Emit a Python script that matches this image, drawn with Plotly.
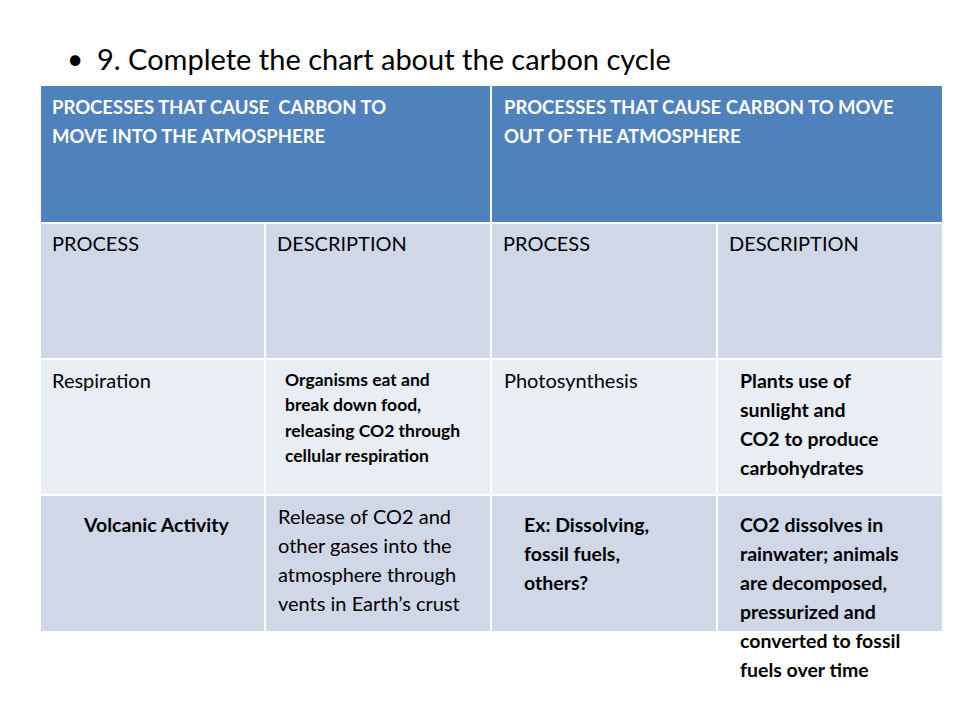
import plotly.graph_objects as go

title = "9. Complete the chart about the carbon cycle"
header_texts = [["PROCESSES THAT CAUSE  CARBON TO", "MOVE INTO THE ATMOSPHERE"],
                ["PROCESSES THAT CAUSE CARBON TO MOVE", "OUT OF THE ATMOSPHERE"]]
subheader_texts = ["PROCESS", "DESCRIPTION", "PROCESS", "DESCRIPTION"]
row3_texts = [["Respiration"],
              ["Organisms eat and", "break down food,", "releasing CO2 through", "cellular respiration"],
              ["Photosynthesis"],
              ["Plants use of", "sunlight and", "CO2 to produce", "carbohydrates"]]
row4_texts = [["Volcanic Activity"],
              ["Release of CO2 and", "other gases into the", "atmosphere through", "vents in Earth’s crust"],
              ["Ex: Dissolving,", "fossil fuels,", "others?"],
              ["CO2 dissolves in", "rainwater; animals", "are decomposed,", "pressurized and",
               "converted to fossil", "fuels over time"]]

FONT = "Lato"
colx = [40, 265, 491, 717, 943]
rowy = [85, 223, 359, 495, 632]
fills = ["#4F81BD", "#D0D8E8", "#E9EDF4", "#D0D8E8"]

fig = go.Figure()
shapes, ann = [], []
g = 1
def rect(x0, x1, y0, y1, c):
    shapes.append(dict(type="rect", xref="x", yref="y", x0=x0 + g, x1=x1 - g, y0=y0 + g, y1=y1 - g,
                       fillcolor=c, line=dict(width=0), layer="below"))
rect(colx[0], colx[2], rowy[0], rowy[1], fills[0])
rect(colx[2], colx[4], rowy[0], rowy[1], fills[0])
for r in range(1, 4):
    for c in range(4):
        rect(colx[c], colx[c + 1], rowy[r], rowy[r + 1], fills[r])

def txt(x, y, lines, size=20, color="black", bold=False, step=29, xanchor="left"):
    for i, t in enumerate(lines):
        s = "<b>" + t + "</b>" if bold else t
        ann.append(dict(x=x, y=y + i * step, xref="x", yref="y", text=s, showarrow=False,
                        xanchor=xanchor, yanchor="middle", align="left",
                        font=dict(family=FONT, size=size, color=color)))

txt(65, 58, ["•"], 28)
txt(95, 58, [title], 29)
txt(50, 107, header_texts[0], 18.5, "white", True, 29)
txt(502, 107, header_texts[1], 18.5, "white", True, 29)
for c, t in enumerate(subheader_texts):
    txt(colx[c] + 10, 243, [t])
txt(50, 380, row3_texts[0])
txt(283, 379, row3_texts[1], 17.5, bold=True, step=25.5)
txt(502, 380, row3_texts[2])
txt(738, 380, row3_texts[3], 19.5, bold=True, step=29)
txt(156, 524, row4_texts[0], 19.5, bold=True, xanchor="center")
txt(276, 516, row4_texts[1], 20, step=29)
txt(522, 524, row4_texts[2], 19.5, bold=True, step=29)
txt(738, 524, row4_texts[3], 19.5, bold=True, step=29)

# page body has an 8px offset; shift ranges to compensate
fig.update_layout(width=960, height=720, margin=dict(l=0, r=0, t=0, b=0),
                  paper_bgcolor="white", plot_bgcolor="white", shapes=shapes, annotations=ann,
                  xaxis=dict(range=[8, 968], visible=False, fixedrange=True),
                  yaxis=dict(range=[728, 8], visible=False, fixedrange=True),
                  showlegend=False)
fig.write_html("out.html")
